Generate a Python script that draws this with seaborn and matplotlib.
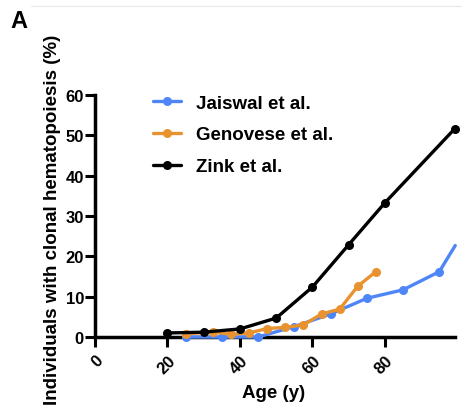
import matplotlib
matplotlib.use("Agg")
import matplotlib.pyplot as plt
from matplotlib.lines import Line2D
import seaborn as sns
import pandas as pd

sns.set_theme(style="ticks")
plt.rcParams['font.family'] = ['Liberation Sans', 'DejaVu Sans']
plt.rcParams.update({"text.color": "black", "axes.labelcolor": "black",
                     "xtick.color": "black", "ytick.color": "black"})

# Data
jaiswal_age = [25, 35, 45, 55, 65, 75, 85, 95, 99.4]
jaiswal_val = [0.0, 0.0, 0.0, 2.6, 5.7, 9.6, 11.7, 16.2, 22.7]
genovese_age = [25, 32.5, 37.5, 42.5, 47.5, 52.5, 57.5, 62.5, 67.5, 72.5, 77.5]
genovese_val = [0.8, 1.2, 0.7, 1.0, 2.1, 2.4, 3.0, 5.7, 6.9, 12.6, 16.2]
zink_age = [20, 30, 40, 50, 60, 70, 80, 99.2]
zink_val = [1.0, 1.2, 2.0, 4.7, 12.4, 22.9, 33.3, 51.6]
series_names = ["Jaiswal et al.", "Genovese et al.", "Zink et al."]
colors = ["#4F86F7", "#E8932F", "#000000"]
x_ticks = [0, 20, 40, 60, 80]
y_ticks = [0, 10, 20, 30, 40, 50, 60]

df = pd.concat([
    pd.DataFrame({"age": jaiswal_age, "val": jaiswal_val, "study": series_names[0]}),
    pd.DataFrame({"age": genovese_age, "val": genovese_val, "study": series_names[1]}),
    pd.DataFrame({"age": zink_age, "val": zink_val, "study": series_names[2]}),
])

fig = plt.figure(figsize=(4.62, 4.10), dpi=100)
ax = fig.add_axes([0.2056, 0.1756, 0.779, 0.590])

sns.lineplot(data=df, x="age", y="val", hue="study", hue_order=series_names,
             palette=colors, marker="o", markersize=6.5, markeredgewidth=0,
             linewidth=2.4, ax=ax, legend=True, sort=False)

for i, ln in enumerate(ax.get_lines()[:3]):
    ln.set_clip_on(False)
    ln.set_zorder(3 + i)
# blue line ends at the frame edge without visible marker
ax.get_lines()[0].set_markevery(list(range(len(jaiswal_age) - 1)))

ax.set_xlim(0, 99.3)
ax.set_ylim(0, 60)
ax.set_xticks(x_ticks)
ax.set_yticks(y_ticks)
ax.set_xticklabels([str(t) for t in x_ticks], rotation=45, ha="right",
                   va="top", rotation_mode="anchor", fontweight="bold", fontsize=12)
ax.set_yticklabels([str(t) for t in y_ticks], fontweight="bold", fontsize=12)
ax.tick_params(axis="x", length=7, width=2.2, pad=4)
ax.tick_params(axis="y", length=7, width=2.2, pad=1)
for s in ["left", "bottom"]:
    ax.spines[s].set_linewidth(2.5)
    ax.spines[s].set_color("black")
for s in ["top", "right"]:
    ax.spines[s].set_visible(False)

ax.set_xlabel("Age (y)", fontweight="bold", fontsize=13.5)
ax.xaxis.set_label_coords(0.497, -0.195)
ax.set_ylabel("Individuals with clonal hematopoiesis (%)", fontweight="bold",
              fontsize=13.5)
ax.yaxis.set_label_coords(-0.095, 0.49)

leg = ax.legend(loc="upper left", bbox_to_anchor=(0.115, 1.072), frameon=False,
                prop={"weight": "bold", "size": 13.5}, handlelength=1.5,
                labelspacing=0.78, handletextpad=0.8)
for h in leg.legend_handles:
    h.set_linewidth(2.4)

fig.text(0.022, 0.976, "A", fontsize=17, fontweight="bold", va="top", ha="left")
fig.add_artist(Line2D([0.068, 1.0], [0.983, 0.983], transform=fig.transFigure,
                      color="#e8e8e8", linewidth=0.8))

fig.savefig("out.png", dpi=100)
